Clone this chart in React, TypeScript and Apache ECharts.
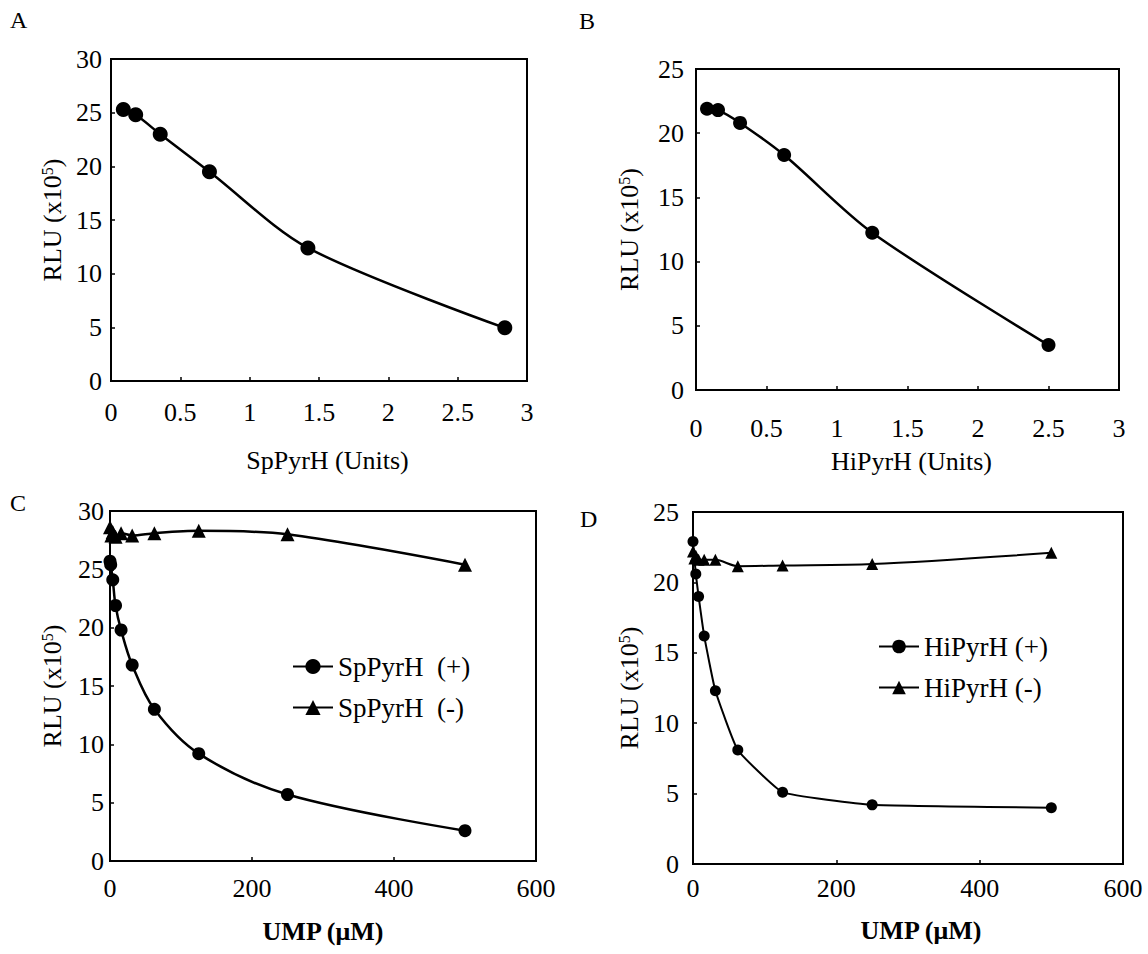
import React, { useEffect, useRef } from "react";
import * as echarts from "echarts";

// Panel A: SpPyrH titration
const aUnits = [0.089, 0.178, 0.355, 0.71, 1.42, 2.84];
const aRlu = [25.3, 24.8, 23.0, 19.5, 12.4, 4.95];
// Panel B: HiPyrH titration
const bUnits = [0.078, 0.156, 0.3125, 0.625, 1.25, 2.5];
const bRlu = [21.9, 21.8, 20.8, 18.3, 12.25, 3.5];
// Panel C: UMP with SpPyrH
const cUmpPlus = [0, 0.98, 3.9, 7.8, 15.6, 31.25, 62.5, 125, 250, 500];
const cPlus = [25.7, 25.4, 24.1, 21.9, 19.8, 16.8, 13.0, 9.2, 5.7, 2.6];
const cUmpMinus = [0, 1.95, 3.9, 7.8, 15.6, 31.25, 62.5, 125, 250, 500];
const cMinus = [28.6, 27.9, 28.2, 27.8, 28.1, 27.9, 28.1, 28.3, 28.0, 25.4];
// Panel D: UMP with HiPyrH
const dUmpPlus = [0, 3.9, 7.8, 15.6, 31.25, 62.5, 125, 250, 500];
const dPlus = [22.9, 20.6, 19.0, 16.2, 12.3, 8.1, 5.1, 4.2, 4.0];
const dUmpMinus = [0, 1.95, 3.9, 7.8, 15.6, 31.25, 62.5, 125, 250, 500];
const dMinus = [22.2, 21.7, 21.9, 21.6, 21.6, 21.6, 21.15, 21.2, 21.3, 22.1];

const xTitles = ["SpPyrH (Units)", "HiPyrH (Units)", "UMP (\u03bcM)", "UMP (\u03bcM)"];
const yTitle = "RLU (x10{sup|5})";
const legendC = ["SpPyrH  (+)", "SpPyrH  (-)"];
const legendD = ["HiPyrH (+)", "HiPyrH (-)"];
const panelLetters = ["A", "B", "C", "D"];

const FONT = "Liberation Serif";

const zip = (xs: number[], ys: number[]) => xs.map((x, i) => [x, ys[i]]);

export default function App() {
  const ref = useRef<HTMLDivElement>(null);
  useEffect(() => {
    document.body.style.margin = "0";
    if (!ref.current) return;
    const chart = echarts.init(ref.current, undefined, { renderer: "svg" });

    const grids = [
      { left: 111, top: 59, width: 416, height: 322 },
      { left: 696, top: 69, width: 423, height: 321 },
      { left: 110, top: 511, width: 426, height: 350 },
      { left: 693, top: 512, width: 430, height: 352 },
    ];
    const xCfg = [
      { max: 3, interval: 0.5, labelMargin: 18, nameGap: 66, bold: false, shift: 17 },
      { max: 3, interval: 0.5, labelMargin: 25, nameGap: 58, bold: false, shift: 8 },
      { max: 600, interval: 200, labelMargin: 14, nameGap: 57, bold: true, shift: 0 },
      { max: 600, interval: 200, labelMargin: 11, nameGap: 53, bold: true, shift: 26 },
    ];
    const yCfg = [
      { max: 30, labelMargin: 9, nameGap: 46 },
      { max: 25, labelMargin: 12, nameGap: 54 },
      { max: 30, labelMargin: 6, nameGap: 45 },
      { max: 25, labelMargin: 14, nameGap: 51 },
    ];

    const axisLine = { show: true, lineStyle: { color: "#000", width: 2 } };
    const axisTick = { show: true, inside: true, length: 4, lineStyle: { color: "#000", width: 1.5 } };

    const xAxis = grids.map((_, i) => ({
      type: "value",
      gridIndex: i,
      min: 0,
      max: xCfg[i].max,
      interval: xCfg[i].interval,
      axisLine,
      axisTick,
      splitLine: { show: false },
      axisLabel: { color: "#000", fontFamily: FONT, fontSize: 26, margin: xCfg[i].labelMargin },
      name: xTitles[i],
      nameLocation: "middle",
      nameGap: xCfg[i].nameGap,
      nameTextStyle: {
        color: "#000",
        fontFamily: FONT,
        fontSize: 26,
        fontWeight: xCfg[i].bold ? "bold" : "normal",
        padding: [0, 0, 0, xCfg[i].shift],
      },
    }));

    const yAxis = grids.map((_, i) => ({
      type: "value",
      gridIndex: i,
      min: 0,
      max: yCfg[i].max,
      interval: 5,
      axisLine,
      axisTick,
      splitLine: { show: false },
      axisLabel: {
        color: "#000",
        fontFamily: FONT,
        fontSize: 26,
        margin: yCfg[i].labelMargin,
      },
      name: yTitle,
      nameLocation: "middle",
      nameRotate: 90,
      nameGap: yCfg[i].nameGap,
      nameTextStyle: {
        color: "#000",
        fontFamily: FONT,
        fontSize: 26,
        rich: {
          sup: { fontFamily: FONT, fontSize: 16, color: "#000", verticalAlign: "top", lineHeight: 14 },
        },
      },
    }));

    const line = (
      name: string,
      idx: number,
      data: number[][],
      symbol: string,
      size: number,
      smooth: number,
      width: number
    ) => ({
      type: "line",
      name,
      xAxisIndex: idx,
      yAxisIndex: idx,
      data,
      symbol,
      symbolSize: size,
      smooth,
      showSymbol: true,
      lineStyle: { color: "#000", width },
      itemStyle: { color: "#000", borderWidth: 0 },
      emphasis: { disabled: true },
      z: 3,
    });

    const series = [
      line("A", 0, zip(aUnits, aRlu), "circle", 15, 0.3, 2.5),
      line("B", 1, zip(bUnits, bRlu), "circle", 14, 0.3, 2.5),
      line(legendC[1], 2, zip(cUmpMinus, cMinus), "triangle", 14, 0.3, 2.5),
      line(legendC[0], 2, zip(cUmpPlus, cPlus), "circle", 13, 0.35, 2.5),
      line(legendD[1], 3, zip(dUmpMinus, dMinus), "triangle", 12, 0.3, 2),
      line(legendD[0], 3, zip(dUmpPlus, dPlus), "circle", 11, 0.12, 2),
    ];

    const legendText = { color: "#000", fontFamily: FONT, fontSize: 27 };

    const letterPos = [
      [10, 8],
      [579, 9],
      [10, 491],
      [580, 507],
    ];

    chart.setOption({
      animation: false,
      backgroundColor: "#fff",
      grid: grids.map((g) => ({
        ...g,
        show: true,
        borderColor: "#000",
        borderWidth: 2,
        backgroundColor: "transparent",
        containLabel: false,
      })),
      xAxis,
      yAxis,
      series,
      legend: [
        {
          data: legendC,
          orient: "vertical",
          left: 287,
          top: 648,
          itemWidth: 40,
          itemHeight: 19,
          itemGap: 14,
          textStyle: legendText,
          selectedMode: false,
        },
        {
          data: legendD,
          orient: "vertical",
          left: 873,
          top: 628,
          itemWidth: 40,
          itemHeight: 17,
          itemGap: 14,
          textStyle: legendText,
          selectedMode: false,
        },
      ],
      graphic: panelLetters.map((t, i) => ({
        type: "text",
        left: letterPos[i][0],
        top: letterPos[i][1],
        style: { text: t, fontFamily: FONT, fontSize: 24, fill: "#000" },
      })),
    });

    return () => chart.dispose();
  }, []);

  return <div ref={ref} style={{ width: 1148, height: 954 }} />;
}
